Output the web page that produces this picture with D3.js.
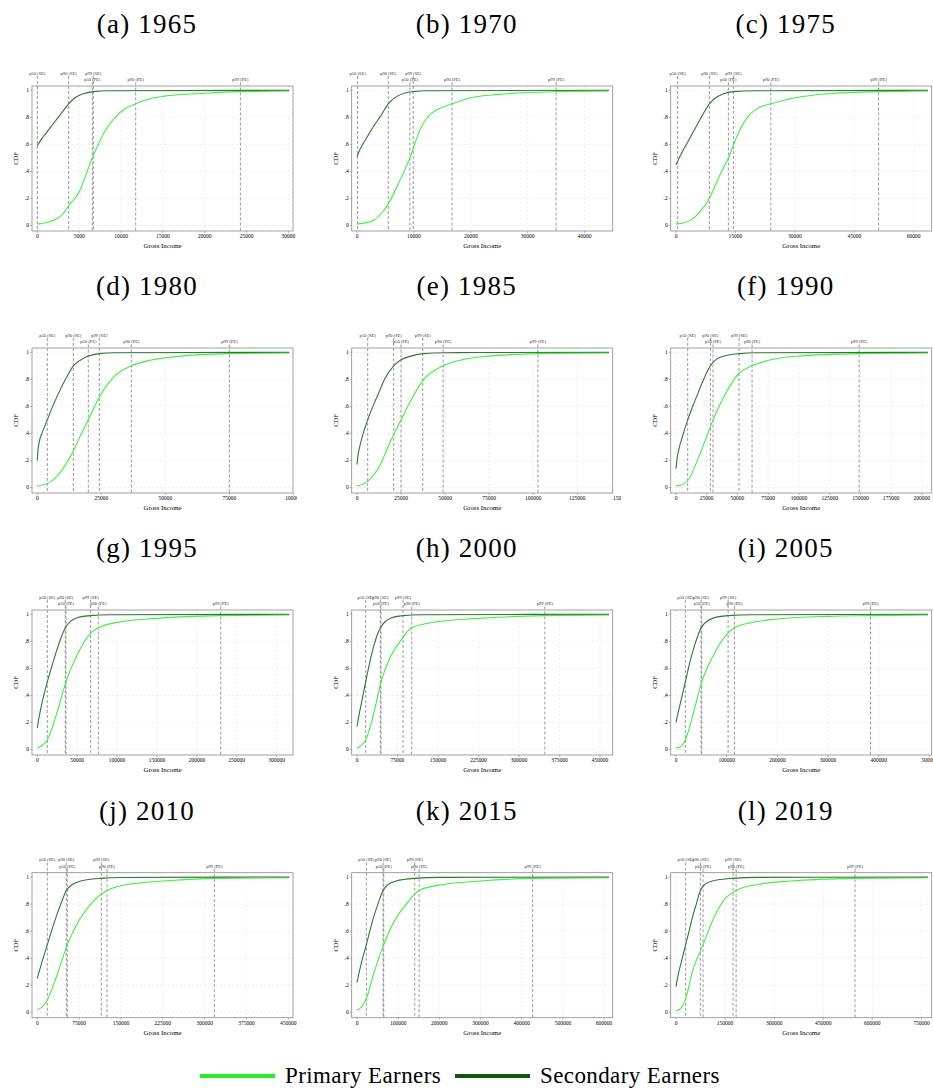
<!DOCTYPE html>
<html>
<head>
<meta charset="utf-8">
<script src="https://cdn.jsdelivr.net/npm/d3@7"></script>
<style>
  body { margin: 0; background: #fff; }
  svg { display: block; }
</style>
</head>
<body>
<div id="chart"></div>
<script>
// panel titles
var letters = ['a', 'b', 'c', 'd', 'e', 'f', 'g', 'h', 'i', 'j', 'k', 'l'];
var years = ['1965', '1970', '1975', '1980', '1985', '1990', '1995', '2000', '2005', '2010', '2015', '2019'];

// x axis: end of data and tick labels
var xMax = [30100, 44300, 63600, 98400, 143000, 205000, 315800, 466700, 497000, 451800, 612000, 770000];
var xTickStep = [5000, 10000, 15000, 25000, 25000, 25000, 50000, 75000, 100000, 75000, 100000, 150000];
var xTickLast = [30000, 40000, 60000, 100000, 150000, 200000, 300000, 450000, 500000, 450000, 600000, 750000];
var yTicks = [0, 0.2, 0.4, 0.6, 0.8, 1];

// percentile markers (gross income)
var p50SE = [0, 100, 420, 3900, 6060, 9500, 12540, 16070, 18450, 17930, 22700, 29590];
var p90SE = [3745, 5500, 8420, 14060, 20830, 27950, 35100, 43260, 49420, 52000, 63240, 74490];
var p99SE = [6690, 9880, 14490, 24220, 37310, 51290, 66860, 85290, 102800, 114760, 140270, 174490];
var p50PE = [6570, 9300, 13230, 19920, 25000, 30120, 35940, 44500, 50740, 53800, 64860, 82650];
var p90PE = [11750, 16700, 23930, 36720, 48860, 61870, 76470, 101360, 115320, 124920, 150810, 183670];
var p99PE = [24260, 35000, 51140, 75000, 102650, 148980, 229840, 347960, 383530, 317400, 426490, 546940];

// CDF of secondary earners, [income, cdf]
var secondaryCdf = [
  [[0,.59],[400,.63],[1000,.68],[2000,.76],[3000,.84],[3745,.9],[4500,.945],[5500,.975],[6690,.99],[8500,.997],[30100,1]],
  [[0,.51],[500,.56],[1000,.6],[2000,.67],[3000,.74],[4000,.8],[5500,.9],[7000,.955],[8500,.98],[9880,.99],[12000,.997],[44300,1]],
  [[0,.45],[1500,.54],[3000,.62],[4500,.7],[6000,.78],[8420,.9],[10000,.945],[12000,.975],[14490,.99],[20000,.997],[63600,1]],
  [[0,.2],[300,.28],[800,.34],[2000,.41],[3900,.5],[6000,.6],[8000,.685],[11000,.8],[14060,.9],[18000,.955],[24220,.99],[30000,.997],[98400,1]],
  [[0,.17],[600,.24],[1500,.3],[3500,.4],[6060,.5],[9000,.6],[12000,.69],[16000,.81],[20830,.9],[25000,.945],[30000,.97],[37310,.99],[50000,.997],[143000,1]],
  [[0,.14],[1000,.22],[2500,.29],[5000,.37],[9500,.5],[14000,.61],[18000,.7],[22000,.79],[27950,.9],[33000,.95],[40000,.975],[51290,.99],[65000,.997],[205000,1]],
  [[0,.16],[2000,.23],[5000,.32],[12540,.5],[20000,.65],[25000,.745],[30000,.83],[35100,.9],[42000,.95],[50000,.975],[66860,.99],[90000,.997],[315800,1]],
  [[0,.17],[4000,.26],[8000,.34],[16070,.5],[25000,.67],[30000,.75],[36000,.83],[43260,.9],[52000,.945],[62000,.97],[85290,.99],[120000,.997],[466700,1]],
  [[0,.2],[4000,.27],[9000,.35],[18450,.5],[27000,.64],[35000,.75],[42000,.83],[49420,.9],[60000,.945],[72000,.97],[102800,.99],[150000,.997],[497000,1]],
  [[0,.25],[4000,.31],[9000,.38],[17930,.5],[27000,.62],[35000,.72],[43000,.81],[52000,.9],[63000,.945],[78000,.97],[114760,.99],[150000,.996],[451800,1]],
  [[0,.22],[5000,.29],[11000,.37],[22700,.5],[32000,.61],[40000,.7],[52000,.81],[63240,.9],[76000,.945],[95000,.97],[140270,.99],[200000,.997],[612000,1]],
  [[0,.19],[7000,.28],[15000,.36],[29590,.5],[40000,.6],[50000,.7],[62000,.8],[74490,.9],[88000,.945],[110000,.97],[174490,.99],[250000,.997],[770000,1]]
];

// CDF of primary earners, [income, cdf]
var primaryCdf = [
  [[0,.01],[1000,.02],[2000,.04],[3000,.08],[3745,.146],[5000,.25],[6570,.5],[8000,.69],[9000,.78],[10500,.865],[11750,.9],[13000,.93],[15000,.955],[20000,.978],[24260,.99],[30100,.995]],
  [[0,.01],[2000,.025],[3000,.04],[4500,.1],[5500,.16],[7000,.285],[9300,.5],[11000,.7],[12000,.78],[13000,.825],[14500,.865],[16700,.9],[20000,.945],[25000,.97],[35000,.99],[44300,.995]],
  [[0,.01],[2000,.02],[4000,.045],[6000,.1],[8420,.2],[11000,.37],[13230,.5],[16000,.7],[18000,.8],[20000,.855],[22000,.885],[23930,.9],[27000,.925],[30000,.945],[35000,.965],[40000,.978],[51140,.99],[63600,.995]],
  [[0,.01],[5000,.04],[8000,.09],[10000,.14],[14060,.27],[17000,.39],[19920,.5],[24220,.67],[30000,.82],[36720,.9],[45000,.945],[55000,.97],[75000,.99],[98400,.995]],
  [[0,.01],[6060,.045],[12000,.14],[20000,.37],[25000,.5],[30000,.63],[37310,.79],[48860,.9],[60000,.946],[75000,.972],[102650,.99],[143000,.995]],
  [[0,.01],[5000,.02],[9500,.05],[20000,.26],[30120,.5],[40000,.69],[51290,.845],[61870,.9],[80000,.95],[100000,.972],[148980,.99],[205000,.995]],
  [[0,.01],[6000,.03],[12540,.07],[25000,.28],[35940,.5],[50000,.7],[66860,.86],[76470,.9],[100000,.94],[150000,.97],[229840,.99],[315800,.995]],
  [[0,.01],[8000,.03],[16070,.07],[30000,.25],[44500,.5],[60000,.67],[80000,.8],[101360,.9],[150000,.946],[225000,.97],[347960,.99],[466700,.995]],
  [[0,.01],[9000,.02],[18450,.07],[35000,.28],[50740,.5],[70000,.67],[100000,.85],[115320,.9],[150000,.94],[200000,.965],[300000,.985],[383530,.99],[497000,.995]],
  [[0,.02],[9000,.04],[17930,.09],[35000,.27],[53800,.5],[75000,.68],[100000,.82],[124920,.9],[150000,.935],[225000,.97],[317400,.99],[451800,.995]],
  [[0,.015],[11000,.04],[22700,.1],[40000,.28],[64860,.5],[90000,.67],[120000,.8],[150810,.9],[200000,.94],[300000,.97],[426490,.99],[612000,.995]],
  [[0,.01],[15000,.03],[29590,.1],[50000,.3],[82650,.5],[120000,.72],[150000,.84],[183670,.9],[250000,.945],[350000,.97],[546940,.99],[770000,.995]]
];

var width = 933, height = 1091;
var serif = '"Liberation Serif", "DejaVu Serif", serif';
var primaryColor = '#3cf23c',
    secondaryColor = '#2e7a2e',
    legendPrimary = '#22f022',
    legendSecondary = '#0b5a0b';

// panel frames
var colLeft = [32, 351.7, 670.7],
    rowTop = [86, 348, 610, 872.7],
    frameW = 261,
    frameH = 145,
    cellClip = [[0, 297], [318, 621], [636, 933]];

var svg = d3.select('#chart').append('svg')
    .attr('width', width)
    .attr('height', height)
    .style('font-family', serif);

var defs = svg.append('defs');

years.forEach(function (year, i) {
    var col = i % 3, row = Math.floor(i / 3);
    var fl = colLeft[col], ft = rowTop[row];

    var x = d3.scaleLinear().domain([0, xMax[i]]).range([fl + 5.3, fl + 257.3]);
    var y = d3.scaleLinear().domain([0, 1]).range([ft + 139.5, ft + 4.3]);
    var xTicks = d3.range(0, xTickLast[i] + 1, xTickStep[i]);

    defs.append('clipPath').attr('id', 'cell-' + i)
        .append('rect')
        .attr('x', cellClip[col][0])
        .attr('y', ft - 90)
        .attr('width', cellClip[col][1] - cellClip[col][0])
        .attr('height', 260);

    var g = svg.append('g').attr('clip-path', 'url(#cell-' + i + ')');

    // title
    g.append('text')
        .attr('x', fl + 115)
        .attr('y', ft - 53)
        .attr('text-anchor', 'middle')
        .attr('font-size', 27)
        .attr('letter-spacing', 1.2)
        .text('(' + letters[i] + ') ' + year);

    // grid
    g.selectAll('.ygrid').data(yTicks).enter().append('line')
        .attr('x1', fl).attr('x2', fl + frameW)
        .attr('y1', function (d) { return y(d); })
        .attr('y2', function (d) { return y(d); })
        .attr('stroke', '#e4e4e4')
        .attr('stroke-width', 0.6)
        .attr('stroke-dasharray', '2,2');

    g.selectAll('.xgrid').data(xTicks.filter(function (d) { return d <= xMax[i]; })).enter().append('line')
        .attr('x1', function (d) { return x(d); })
        .attr('x2', function (d) { return x(d); })
        .attr('y1', ft).attr('y2', ft + frameH)
        .attr('stroke', '#e4e4e4')
        .attr('stroke-width', 0.6)
        .attr('stroke-dasharray', '2,2');

    // percentile markers
    var markers = [
        { v: p50SE[i], label: 'p50 (SE)', top: true },
        { v: p90SE[i], label: 'p90 (SE)', top: true },
        { v: p99SE[i], label: 'p99 (SE)', top: true },
        { v: p50PE[i], label: 'p50 (PE)', top: false },
        { v: p90PE[i], label: 'p90 (PE)', top: false },
        { v: p99PE[i], label: 'p99 (PE)', top: false }
    ];

    g.selectAll('.pline').data(markers).enter().append('line')
        .attr('x1', function (d) { return x(d.v); })
        .attr('x2', function (d) { return x(d.v); })
        .attr('y1', function (d) { return d.top ? ft - 10 : ft - 3.5; })
        .attr('y2', ft + frameH)
        .attr('stroke', '#6e6e6e')
        .attr('stroke-width', 0.7)
        .attr('stroke-dasharray', '3,2');

    g.selectAll('.plabel').data(markers).enter().append('text')
        .attr('x', function (d) { return x(d.v); })
        .attr('y', function (d) { return d.top ? ft - 11.5 : ft - 5; })
        .attr('text-anchor', 'middle')
        .attr('font-size', 4.5)
        .attr('fill', '#333')
        .text(function (d) { return d.label; });

    // curves
    var line = d3.line()
        .x(function (d) { return x(d[0]); })
        .y(function (d) { return y(d[1]); })
        .curve(d3.curveMonotoneX);

    g.append('path')
        .datum(primaryCdf[i])
        .attr('d', line)
        .attr('fill', 'none')
        .attr('stroke', primaryColor)
        .attr('stroke-width', 1.1);

    g.append('path')
        .datum(secondaryCdf[i])
        .attr('d', line)
        .attr('fill', 'none')
        .attr('stroke', secondaryColor)
        .attr('stroke-width', 1.1);

    // frame
    g.append('rect')
        .attr('x', fl).attr('y', ft)
        .attr('width', frameW).attr('height', frameH)
        .attr('fill', 'none')
        .attr('stroke', '#8a8a8a')
        .attr('stroke-width', 0.8);

    // y axis
    g.selectAll('.ytick').data(yTicks).enter().append('line')
        .attr('x1', fl - 2).attr('x2', fl)
        .attr('y1', function (d) { return y(d); })
        .attr('y2', function (d) { return y(d); })
        .attr('stroke', '#8a8a8a')
        .attr('stroke-width', 0.6);

    g.selectAll('.ylab').data(yTicks).enter().append('text')
        .attr('x', fl - 3)
        .attr('y', function (d) { return y(d) + 1.8; })
        .attr('text-anchor', 'end')
        .attr('font-size', 5.5)
        .text(function (d) { return d === 0 ? '0' : d === 1 ? '1' : '.' + Math.round(d * 10); });

    g.append('text')
        .attr('transform', 'translate(' + (fl - 14) + ',' + (ft + frameH / 2) + ') rotate(-90)')
        .attr('text-anchor', 'middle')
        .attr('font-size', 6.5)
        .text('CDF');

    // x axis
    g.selectAll('.xtick').data(xTicks).enter().append('line')
        .attr('x1', function (d) { return x(d); })
        .attr('x2', function (d) { return x(d); })
        .attr('y1', ft + frameH).attr('y2', ft + frameH + 2)
        .attr('stroke', '#8a8a8a')
        .attr('stroke-width', 0.6);

    g.selectAll('.xlab').data(xTicks).enter().append('text')
        .attr('x', function (d) { return x(d); })
        .attr('y', ft + frameH + 7)
        .attr('text-anchor', 'middle')
        .attr('font-size', 5.5)
        .text(function (d) { return String(d); });

    g.append('text')
        .attr('x', fl + frameW / 2)
        .attr('y', ft + frameH + 17)
        .attr('text-anchor', 'middle')
        .attr('font-size', 6.8)
        .text('Gross Income');
});

// legend
var legend = [
    { label: 'Primary Earners', color: legendPrimary, x: 200 },
    { label: 'Secondary Earners', color: legendSecondary, x: 455 }
];

var lg = svg.append('g');
lg.selectAll('line').data(legend).enter().append('line')
    .attr('x1', function (d) { return d.x; })
    .attr('x2', function (d) { return d.x + 75; })
    .attr('y1', 1076).attr('y2', 1076)
    .attr('stroke', function (d) { return d.color; })
    .attr('stroke-width', 4);

lg.selectAll('text').data(legend).enter().append('text')
    .attr('x', function (d) { return d.x + 85; })
    .attr('y', 1083)
    .attr('font-size', 23)
    .attr('letter-spacing', 0.4)
    .text(function (d) { return d.label; });
</script>
</body>
</html>
